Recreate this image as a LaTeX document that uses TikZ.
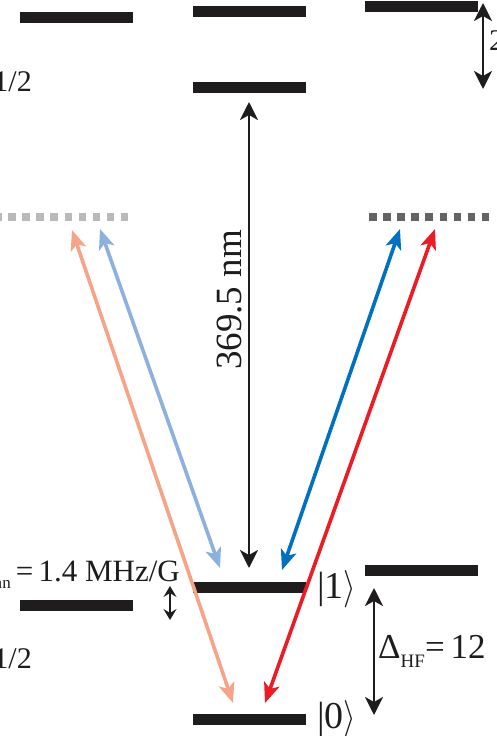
\documentclass[tikz,border=0pt]{standalone}
\usepackage{fontspec}
\setmainfont{Liberation Serif}
\usetikzlibrary{arrows.meta}
\definecolor{lightlevel}{RGB}{185,185,185}
\definecolor{darklevel}{RGB}{100,100,100}
\definecolor{sigmaminus}{RGB}{246,164,136}
\definecolor{pilight}{RGB}{141,177,222}
\definecolor{pidark}{RGB}{0,112,192}
\definecolor{sigmaplus}{RGB}{237,28,36}
\definecolor{barcol}{RGB}{30,28,29}
\newcommand{\ketend}{\scalebox{1.3}[1.5]{$\rangle$}}
\tikzset{level/.style={line width=11pt,barcol},
 dashlevel/.style={line width=8pt,dash pattern=on 7.5pt off 6.6pt},
 trans/.style={{Stealth[length=20pt,width=16pt,inset=5pt]}-{Stealth[length=20pt,width=16pt,inset=5pt]},line width=3.6pt},
 gap/.style={{Stealth[length=18pt,width=18pt,inset=5pt]}-{Stealth[length=18pt,width=18pt,inset=5pt]},line width=2.8pt,barcol},
 smallgap/.style={{Stealth[length=11pt,width=13pt,inset=4pt]}-{Stealth[length=11pt,width=13pt,inset=4pt]},line width=2.2pt,barcol},
 every node/.style={font=\fontsize{30}{32}\selectfont,inner sep=0pt,text=barcol}}

\begin{document}
\begin{tikzpicture}[x=1pt,y=-1pt]
\useasboundingbox (0,0) rectangle (497,736);
% upper manifold
\draw[level] (20,17.5)--(133,17.5);
\draw[level] (193,11.5)--(306,11.5);
\draw[level] (193,87.5)--(306,87.5);
\draw[level] (365,6)--(478,6);
% virtual levels
\draw[dashlevel,lightlevel] (-6,217)--(128,217);
\draw[dashlevel,darklevel] (369,217)--(493,217);
% lower manifold
\draw[level] (20,605)--(133,605);
\draw[level] (193,587)--(306,587);
\draw[level] (365,570)--(478,570);
\draw[level] (193,719)--(306,719);
% arrow ends
\coordinate (smtop) at (72,230);
\coordinate (smbot) at (233,703);
\coordinate (pltop) at (100,229);
\coordinate (plbot) at (220,568);
\coordinate (pdtop) at (400,229);
\coordinate (pdbot) at (282,570);
\coordinate (sptop) at (435,229);
\coordinate (spbot) at (265,703);
\coordinate (uvtop) at (249,102);
\coordinate (uvbot) at (249,568);
\coordinate (fstop) at (483,3);
\coordinate (fsbot) at (483,89);
\coordinate (zmtop) at (170,586);
\coordinate (zmbot) at (170,620);
\coordinate (hftop) at (374,588);
\coordinate (hfbot) at (374,715);
% transitions
\draw[trans,sigmaminus] (smtop)--(smbot);
\draw[trans,pilight] (pltop)--(plbot);
\draw[trans,pidark] (pdtop)--(pdbot);
\draw[trans,sigmaplus] (sptop)--(spbot);
\draw[gap] (uvtop)--(uvbot);
\draw[gap] (fstop)--(fsbot);
\draw[smallgap] (zmtop)--(zmbot);
\draw[gap] (hftop)--(hfbot);
% labels
\node[rotate=90,font=\fontsize{37}{40}\selectfont] (uvlabel) at (230,300) {369.5 nm};
\node[anchor=base east] (pupper) at (32,91) {1/2};
\node[anchor=base east] (slower) at (32,668) {1/2};
\node[anchor=base east,font=\fontsize{31}{33}\selectfont] (zeeman) at (180,581) {\raisebox{-0.5ex}{\fontsize{17}{17}\selectfont an}\,=\,1.4 MHz/G};
\node[anchor=base west] (fslabel) at (489,50) {2};
\node[anchor=base west,font=\fontsize{35}{37}\selectfont] (hflabel) at (378,658) {Δ\raisebox{-0.6ex}{\fontsize{19}{19}\selectfont HF}=\,12};
\node[anchor=base west,font=\fontsize{38}{40}\selectfont] (ketone) at (317,598) {\textbar 1\ketend};
\node[anchor=base west,font=\fontsize{38}{40}\selectfont] (ketzero) at (317,728) {\textbar 0\ketend};
\end{tikzpicture}
\end{document}
